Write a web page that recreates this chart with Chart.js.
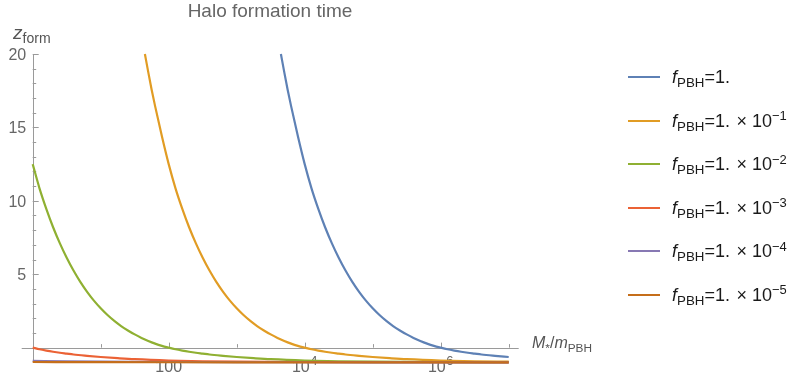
<!DOCTYPE html>
<html>
<head>
<meta charset="utf-8">
<title>Halo formation time</title>
<script src="https://cdn.jsdelivr.net/npm/chart.js@4.4.1/dist/chart.umd.min.js"></script>
<style>
  html, body { margin: 0; padding: 0; background: #fff; }
  #wrap { position: relative; width: 799px; height: 378px; overflow: hidden;
          font-family: "Liberation Sans", Arial, sans-serif; }
  #c { position: absolute; left: 0; top: 0; }
  .title { position: absolute; left: 270px; top: 1px; transform: translateX(-50%);
           font-size: 19px; line-height: 20px; color: #666; white-space: nowrap; }
  .ylab { position: absolute; left: 13px; top: 23px; font-size: 19px; line-height: 20px;
          color: #555; white-space: nowrap; }
  .xlab { position: absolute; left: 532px; top: 333px; font-size: 16px; line-height: 20px;
          color: #555; white-space: nowrap; }
  .sub { font-size: 0.74em; position: relative; top: 0.32em; line-height: 0; vertical-align: baseline; }
  .sup { font-size: 0.72em; position: relative; top: -0.5em; line-height: 0; vertical-align: baseline; }
  .legend-row { position: absolute; left: 628px; height: 20px; line-height: 20px;
                display: flex; align-items: center; white-space: nowrap;
                font-size: 18px; color: #1a1a1a; }
  .swatch { width: 32px; height: 2px; margin-right: 12px; flex: none; }
</style>
</head>
<body>
<div id="wrap">
  <canvas id="c" width="799" height="378"></canvas>
  <div class="title">Halo formation time</div>
  <div class="ylab"><i>z</i><span class="sub">form</span></div>
  <div class="xlab"><i>M</i><span class="sub">*</span>/<i>m</i><span class="sub">PBH</span></div>
</div>
<script>
// Formation redshift z_form against log10(M*/m_PBH), one pair of arrays per f_PBH.
const logMassF0 = [3.65, 3.7, 3.75, 3.8, 3.9, 4.0, 4.1, 4.2, 4.3, 4.4, 4.5, 4.6, 4.7, 4.8, 4.9,
                   5.0, 5.1, 5.2, 5.3, 5.4, 5.5, 5.6, 5.7, 5.8, 5.9, 6.0,
                   6.1, 6.2, 6.3, 6.4, 6.5, 6.6, 6.8, 7.0];
const zFormF0   = [20.0, 18.75, 17.55, 16.45, 14.4, 12.5, 10.85, 9.45, 8.2, 7.1, 6.12, 5.25, 4.48, 3.8, 3.2,
                   2.68, 2.22, 1.82, 1.47, 1.17, 0.9, 0.66, 0.45, 0.27, 0.12, 0.0,
                   -0.11, -0.2, -0.28, -0.35, -0.41, -0.47, -0.56, -0.64];

const logMassF1 = [1.65, 1.7, 1.75, 1.8, 1.9, 2.0, 2.1, 2.2, 2.3, 2.4, 2.5, 2.6, 2.7, 2.8, 2.9,
                   3.0, 3.1, 3.2, 3.3, 3.4, 3.5, 3.6, 3.7, 3.8, 3.9, 4.0,
                   4.1, 4.2, 4.3, 4.4, 4.5, 4.6, 4.8, 5.0, 5.25, 5.5, 6.0, 6.5, 7.0];
const zFormF1   = [20.0, 18.75, 17.55, 16.45, 14.4, 12.5, 10.85, 9.45, 8.2, 7.1, 6.12, 5.25, 4.48, 3.8, 3.2,
                   2.68, 2.22, 1.82, 1.47, 1.17, 0.9, 0.66, 0.45, 0.27, 0.12, 0.0,
                   -0.11, -0.2, -0.28, -0.35, -0.41, -0.47, -0.56, -0.64, -0.72, -0.79, -0.88, -0.93, -0.955];

const logMassF2 = [0.0, 0.1, 0.2, 0.3, 0.4, 0.5, 0.6, 0.7, 0.8, 0.9,
                   1.0, 1.1, 1.2, 1.3, 1.4, 1.5, 1.6, 1.7, 1.8, 1.9, 2.0,
                   2.1, 2.2, 2.3, 2.4, 2.5, 2.6, 2.8, 3.0, 3.25, 3.5, 4.0, 4.5, 5.0, 6.0, 7.0];
const zFormF2   = [12.5, 10.85, 9.45, 8.2, 7.1, 6.12, 5.25, 4.48, 3.8, 3.2,
                   2.68, 2.22, 1.82, 1.47, 1.17, 0.9, 0.66, 0.45, 0.27, 0.12, 0.0,
                   -0.11, -0.2, -0.28, -0.35, -0.41, -0.47, -0.56, -0.64, -0.72, -0.79, -0.88, -0.93, -0.955,
                   -0.98, -0.993];

const logMassF3 = [0.0, 0.1, 0.2, 0.3, 0.4, 0.5, 0.6, 0.8, 1.0, 1.25, 1.5, 2.0, 2.5, 3.0, 4.0, 5.0, 6.0, 7.0];
const zFormF3   = [0.0, -0.11, -0.2, -0.28, -0.35, -0.41, -0.47, -0.56, -0.64, -0.72, -0.79, -0.88,
                   -0.93, -0.955, -0.98, -0.993, -0.997, -0.999];

const logMassF4 = [0.0, 0.5, 1.0, 2.0, 3.0, 4.0, 5.0, 6.0, 7.0];
const zFormF4   = [-0.9, -0.94, -0.96, -0.98, -0.993, -0.997, -0.999, -1.0, -1.0];

const logMassF5 = [0.0, 1.0, 2.0, 3.0, 4.0, 5.0, 6.0, 7.0];
const zFormF5   = [-0.98, -0.993, -0.997, -0.999, -1.0, -1.0, -1.0, -1.0];

// f_PBH exponents shown in the legend (null = plain "1.")
const fExponents = [null, -1, -2, -3, -4, -5];
const seriesColors = ['#5E81B5', '#E19C24', '#8FB032', '#EB6235', '#8778B3', '#C56E1A'];

// Axis ticks
const yMajorTicks = [5, 10, 15, 20];
const yMinorTicks = [1, 2, 3, 4, 6, 7, 8, 9, 11, 12, 13, 14, 16, 17, 18, 19];
const xTickValues = [1e1, 1e2, 1e3, 1e4, 1e5, 1e6, 1e7];
const xLabelValues = [1e2, 1e4, 1e6];
const xLabelBases  = ['100', '10', '10'];
const xLabelExps   = ['', '4', '6'];

const massSeries = [logMassF0, logMassF1, logMassF2, logMassF3, logMassF4, logMassF5];
const zSeries    = [zFormF0, zFormF1, zFormF2, zFormF3, zFormF4, zFormF5];

function legendText(exp) {
  const head = '<i>f</i><span class="sub">PBH</span>=1.';
  if (exp === null) return head;
  return head + '&#8202;&nbsp;×&nbsp;10<span class="sup">\u2212' + Math.abs(exp) + '</span>';
}

const datasets = massSeries.map((logs, i) => ({
  label: 'f_PBH = 1e' + (fExponents[i] === null ? 0 : fExponents[i]),
  data: logs.map((e, k) => ({ x: Math.pow(10, e), y: zSeries[i][k] })),
  borderColor: seriesColors[i],
  backgroundColor: seriesColors[i],
  borderWidth: 2.2,
  pointRadius: 0,
  fill: false,
  cubicInterpolationMode: 'monotone',
  clip: 4,
  order: massSeries.length - i
}));

// Mathematica-style axes: y axis on the left edge, x axis crossing at z = 0
const axesPlugin = {
  id: 'crossAxes',
  beforeDatasetsDraw(chart) {
    const ctx = chart.ctx;
    const xs = chart.scales.x, ys = chart.scales.y;
    const x0 = xs.getPixelForValue(1);
    const xEnd = xs.getPixelForValue(1e7);
    const y0 = ys.getPixelForValue(0);
    const yTop = ys.getPixelForValue(20);
    const yBot = ys.getPixelForValue(-1);
    ctx.save();
    ctx.strokeStyle = '#9a9a9a';
    ctx.lineWidth = 1;

    // y axis line
    ctx.beginPath();
    ctx.moveTo(Math.round(x0) + 0.5, yTop);
    ctx.lineTo(Math.round(x0) + 0.5, yBot);
    ctx.stroke();

    // x axis line
    ctx.beginPath();
    ctx.moveTo(x0 - 11, Math.round(y0) + 0.5);
    ctx.lineTo(xEnd + 10, Math.round(y0) + 0.5);
    ctx.stroke();

    // y ticks
    ctx.beginPath();
    yMajorTicks.forEach(v => {
      const y = Math.round(ys.getPixelForValue(v)) + 0.5;
      ctx.moveTo(x0, y); ctx.lineTo(x0 + 6, y);
    });
    yMinorTicks.forEach(v => {
      const y = Math.round(ys.getPixelForValue(v)) + 0.5;
      ctx.moveTo(x0, y); ctx.lineTo(x0 + 3.5, y);
    });
    // x ticks (pointing up from the axis)
    xTickValues.forEach(v => {
      const x = Math.round(xs.getPixelForValue(v)) + 0.5;
      const major = xLabelValues.includes(v);
      ctx.moveTo(x, y0); ctx.lineTo(x, y0 - (major ? 5 : 3.5));
    });
    ctx.stroke();

    // y tick labels
    ctx.fillStyle = '#666';
    ctx.font = '16px "Liberation Sans", Arial, sans-serif';
    ctx.textAlign = 'right';
    ctx.textBaseline = 'alphabetic';
    yMajorTicks.forEach(v => {
      const y = ys.getPixelForValue(v);
      ctx.fillText(String(v), x0 - 6.5, y + 5.7);
    });

    // x tick labels with optional superscript
    xLabelValues.forEach((v, i) => {
      const x = xs.getPixelForValue(v);
      const base = xLabelBases[i], exp = xLabelExps[i];
      ctx.font = '16px "Liberation Sans", Arial, sans-serif';
      const wb = ctx.measureText(base).width;
      ctx.font = '13px "Liberation Sans", Arial, sans-serif';
      const we = exp ? ctx.measureText(exp).width + 0.5 : 0;
      const left = x - (wb + we) / 2;
      const baseY = y0 + 24.5;
      ctx.textAlign = 'left';
      ctx.font = '16px "Liberation Sans", Arial, sans-serif';
      ctx.fillText(base, left, baseY);
      if (exp) {
        ctx.font = '13px "Liberation Sans", Arial, sans-serif';
        ctx.fillText(exp, left + wb + 0.5, baseY - 7);
      }
    });
    ctx.restore();
  }
};

new Chart(document.getElementById('c'), {
  type: 'line',
  data: { datasets },
  options: {
    responsive: false,
    animation: false,
    devicePixelRatio: 1,
    layout: { padding: { left: 32.7, right: 290.3, top: 54, bottom: 15.7 } },
    plugins: { legend: { display: false }, title: { display: false }, tooltip: { enabled: false } },
    scales: {
      x: { type: 'logarithmic', min: 1, max: 1e7, display: false },
      y: { type: 'linear', min: -1, max: 20, display: false }
    }
  },
  plugins: [axesPlugin]
});

// Legend
const wrap = document.getElementById('wrap');
fExponents.forEach((exp, i) => {
  const row = document.createElement('div');
  row.className = 'legend-row';
  row.style.top = (67 + i * 43.5) + 'px';
  const sw = document.createElement('div');
  sw.className = 'swatch';
  sw.style.background = seriesColors[i];
  const txt = document.createElement('span');
  txt.innerHTML = legendText(exp);
  row.appendChild(sw);
  row.appendChild(txt);
  wrap.appendChild(row);
});
</script>
</body>
</html>
